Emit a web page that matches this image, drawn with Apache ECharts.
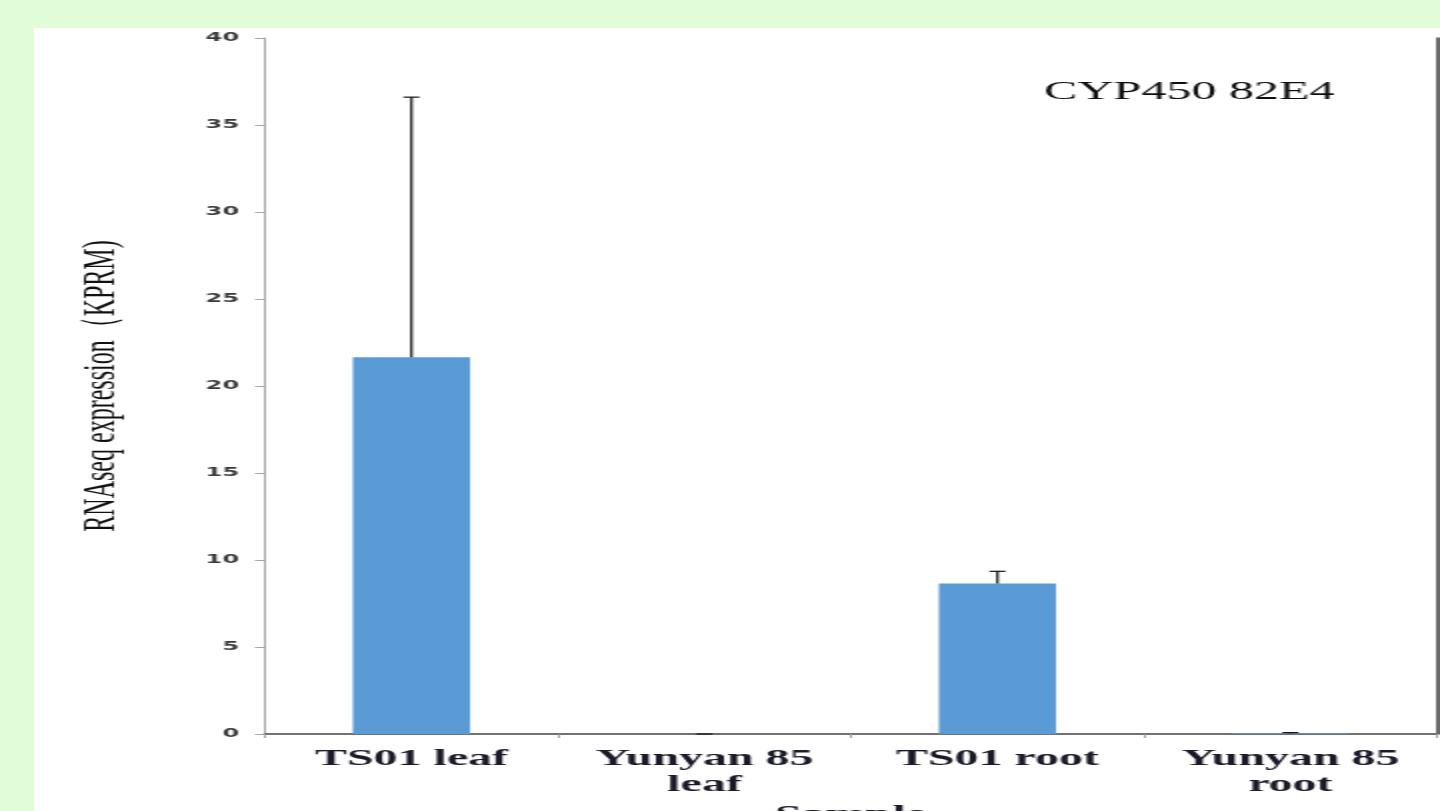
<!DOCTYPE html>
<html>
<head>
<meta charset="utf-8">
<script src="https://cdn.jsdelivr.net/npm/echarts@6/dist/echarts.min.js"></script>
<style>
  html, body { margin: 0; padding: 0; width: 1440px; height: 811px; overflow: hidden; background: #e1fdd8; }
  /* The figure is laid out at half width and stretched 2x horizontally */
  #chart { position: absolute; left: 34px; top: 28px; width: 703px; height: 783px;
           background: #ffffff; transform: scaleX(2); transform-origin: 0 0; }
</style>
</head>
<body>
<div id="chart"></div>
<script>
// Samples on the x axis
const categories = ['TS01 leaf', 'Yunyan 85\nleaf', 'TS01 root', 'Yunyan 85\nroot'];
// Mean expression (KPRM) and upper error for each sample
const meanValues = [21.65, 0, 8.65, 0.05];
const errorValues = [14.95, 0, 0.7, 0.03];
// Value axis range
const yMin = 0, yMax = 40, yStep = 5;
const geneName = 'CYP450 82E4';

const errorData = meanValues.map((m, i) => [i, m, m + errorValues[i]]);

const chart = echarts.init(document.getElementById('chart'), null, { renderer: 'canvas' });

const serif = "'Liberation Serif', 'Times New Roman', serif";

chart.setOption({
  animation: false,
  backgroundColor: '#ffffff',
  title: {
    text: geneName,
    left: 500, top: 47,
    textStyle: { fontFamily: serif, fontSize: 25, fontWeight: 'normal', color: '#0d0d0d' }
  },
  grid: { left: 115.5, right: 1.5, top: 10, bottom: 77, containLabel: false, outerBoundsMode: 'none' },
  xAxis: [{
    type: 'category',
    data: categories,
    position: 'bottom',
    name: 'Sample',
    nameLocation: 'middle',
    nameGap: 68,
    nameTextStyle: { fontFamily: serif, fontSize: 24, fontWeight: 'bold', color: '#1a1a28' },
    axisLine: { lineStyle: { color: '#a6a6a6', width: 1.5 } },
    axisTick: { show: true, length: 4, lineStyle: { color: '#a0a0a0', width: 1 } },
    axisLabel: { interval: 0, margin: 12, fontFamily: serif, fontSize: 24, fontWeight: 'bold',
                 lineHeight: 26, color: '#1a1a28' },
    splitLine: { show: false }
  }, {
    type: 'category',
    data: categories,
    position: 'top',
    axisLine: { lineStyle: { color: '#5a5a5a', width: 1.5 } },
    axisTick: { show: false },
    axisLabel: { show: false }
  }],
  yAxis: [{
    type: 'value',
    min: yMin, max: yMax, interval: yStep,
    position: 'left',
    name: 'RNAseq expression（KPRM)',
    nameLocation: 'middle',
    nameRotate: 90,
    nameGap: 70,
    nameTextStyle: { fontFamily: serif, fontSize: 24, color: '#111111' },
    axisLine: { show: true, lineStyle: { color: '#a6a6a6', width: 1 } },
    axisTick: { show: true, length: 5, lineStyle: { color: '#a6a6a6', width: 1 } },
    axisLabel: { margin: 13, fontFamily: "'DejaVu Sans', Verdana, sans-serif", fontSize: 12,
                 fontWeight: 'bold', color: '#3a3a3a' },
    splitLine: { show: false }
  }, {
    type: 'value',
    min: yMin, max: yMax, interval: yStep,
    position: 'right',
    axisLine: { show: true, lineStyle: { color: '#3a3a3a', width: 1.5 } },
    axisTick: { show: false },
    axisLabel: { show: false },
    splitLine: { show: false }
  }],
  series: [{
    type: 'bar',
    data: meanValues,
    barWidth: '40%',
    itemStyle: { color: '#5b9bd5' }
  }, {
    type: 'custom',
    data: errorData,
    z: 5,
    renderItem: function (params, api) {
      const base = api.coord([api.value(0), api.value(1)]);
      const top = api.coord([api.value(0), api.value(2)]);
      const half = 4;
      const style = { stroke: '#111111', lineWidth: 1.2 };
      return {
        type: 'group',
        children: [
          { type: 'line', shape: { x1: base[0], y1: base[1], x2: top[0], y2: top[1] }, style: style },
          { type: 'line', shape: { x1: top[0] - half, y1: top[1], x2: top[0] + half, y2: top[1] }, style: style }
        ]
      };
    }
  }]
});
</script>
</body>
</html>
